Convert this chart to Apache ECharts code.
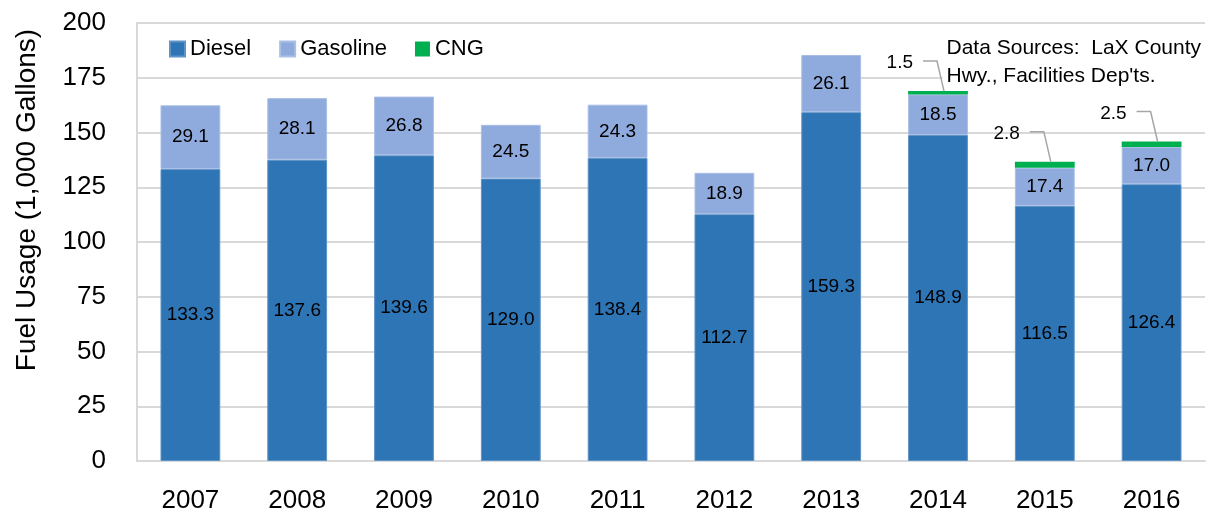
<!DOCTYPE html>
<html>
<head>
<meta charset="utf-8">
<script src="https://cdn.jsdelivr.net/npm/echarts@6/dist/echarts.min.js"></script>
<style>
  html, body { margin: 0; padding: 0; background: #fff; }
  #chart { width: 1209px; height: 514px; }
</style>
</head>
<body>
<div id="chart"></div>
<script>
// chart data
const years = ['2007', '2008', '2009', '2010', '2011', '2012', '2013', '2014', '2015', '2016'];
const diesel = [133.3, 137.6, 139.6, 129.0, 138.4, 112.7, 159.3, 148.9, 116.5, 126.4];
const gasoline = [29.1, 28.1, 26.8, 24.5, 24.3, 18.9, 26.1, 18.5, 17.4, 17.0];
const cng = [null, null, null, null, null, null, null, 1.5, 2.8, 2.5];
const yTicks = [0, 25, 50, 75, 100, 125, 150, 175, 200];

const font = 'Liberation Sans';

// CNG call-outs: [category index, stack top, cng value]
const cngCallouts = [];
cng.forEach((v, i) => {
  if (v != null) cngCallouts.push([i, diesel[i] + gasoline[i] + v, v]);
});

const chart = echarts.init(document.getElementById('chart'));

chart.setOption({
  animation: false,
  textStyle: { fontFamily: font, color: '#000' },
  grid: { left: 137, right: 4, top: 23, bottom: 52 },
  legend: {
    left: 169,
    top: 38,
    padding: 0,
    itemWidth: 15,
    itemHeight: 15,
    itemGap: 28,
    icon: 'rect',
    textStyle: { fontFamily: font, fontSize: 22, color: '#000' },
    data: ['Diesel', 'Gasoline', 'CNG']
  },
  graphic: [
    {
      type: 'text',
      x: 27,
      y: 200,
      rotation: Math.PI / 2,
      style: {
        text: 'Fuel Usage (1,000 Gallons)',
        font: '28px ' + font,
        fill: '#000',
        align: 'center',
        verticalAlign: 'middle'
      }
    },
    {
      // white box hides the gridline behind the source note
      type: 'text',
      right: 2,
      top: 33,
      z: 1,
      style: {
        text: 'Data Sources:  LaX County\nHwy., Facilities Dep\'ts.',
        font: '21px ' + font,
        fill: '#000',
        align: 'right',
        lineHeight: 28,
        backgroundColor: '#fff',
        padding: [1, 6, 1, 4]
      }
    }
  ],
  xAxis: {
    type: 'category',
    data: years,
    axisLine: { lineStyle: { color: '#d9d9d9', width: 2 } },
    axisTick: { show: false },
    axisLabel: { fontSize: 26, color: '#000', margin: 27, fontFamily: font }
  },
  yAxis: {
    type: 'value',
    min: yTicks[0],
    max: yTicks[yTicks.length - 1],
    interval: 25,
    axisLine: { show: true, lineStyle: { color: '#d9d9d9', width: 2 } },
    axisTick: { show: false },
    axisLabel: { fontSize: 26, color: '#000', margin: 31, fontFamily: font },
    splitLine: { lineStyle: { color: '#d9d9d9', width: 2 } }
  },
  series: [
    {
      name: 'Diesel',
      type: 'bar',
      stack: 'fuel',
      barWidth: '56%',
      data: diesel,
      itemStyle: { color: '#2E75B6', borderColor: '#5f93c6', borderWidth: 1 },
      label: {
        show: true,
        position: 'inside',
        fontSize: 19,
        color: '#000',
        formatter: p => p.value.toFixed(1)
      }
    },
    {
      name: 'Gasoline',
      type: 'bar',
      stack: 'fuel',
      data: gasoline,
      itemStyle: { color: '#8FAADC', borderColor: '#a9bfe5', borderWidth: 1 },
      label: {
        show: true,
        position: 'inside',
        fontSize: 19,
        color: '#000',
        formatter: p => p.value.toFixed(1)
      }
    },
    {
      name: 'CNG',
      type: 'bar',
      stack: 'fuel',
      data: cng,
      itemStyle: { color: '#00B050' }
    },
    {
      // leader lines + labels for the thin CNG segments
      type: 'custom',
      data: cngCallouts,
      encode: { x: 0, y: 1 },
      z: 5,
      renderItem: (params, api) => {
        const p = api.coord([api.value(0), api.value(1)]);
        const x = p[0], y = p[1];
        return {
          type: 'group',
          children: [
            {
              type: 'polyline',
              shape: { points: [[x + 6, y], [x - 1, y - 30], [x - 15, y - 30]] },
              style: { stroke: '#a6a6a6', lineWidth: 1.5, fill: null }
            },
            {
              type: 'text',
              x: x - 25,
              y: y - 28,
              style: {
                text: api.value(2).toFixed(1),
                font: '19px ' + font,
                fill: '#000',
                align: 'right',
                verticalAlign: 'middle'
              }
            }
          ]
        };
      }
    }
  ]
});
</script>
</body>
</html>
